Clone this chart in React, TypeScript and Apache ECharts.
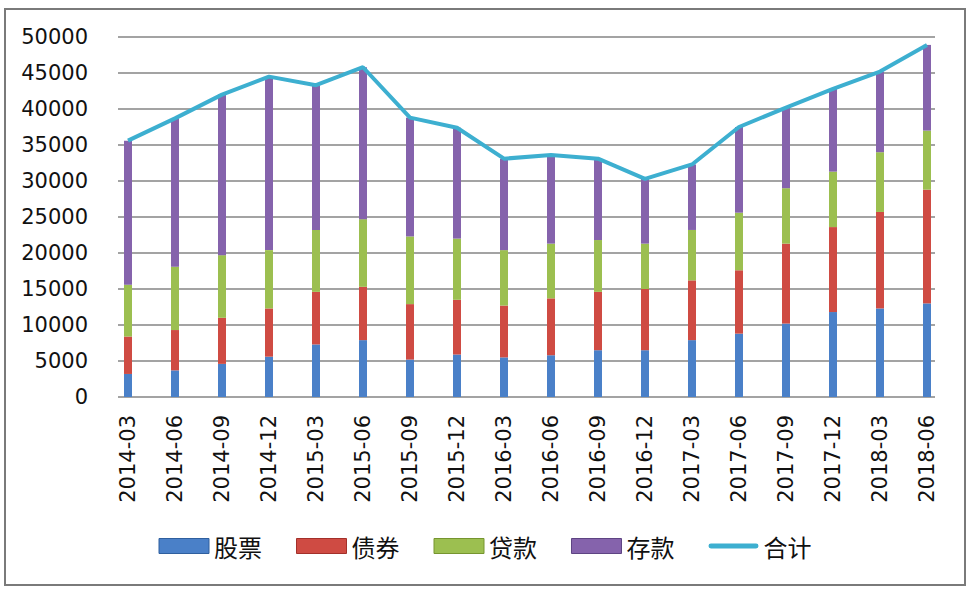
import React, { useEffect, useRef } from "react";
import * as echarts from "echarts";

const categories = [
  "2014-03", "2014-06", "2014-09", "2014-12", "2015-03", "2015-06",
  "2015-09", "2015-12", "2016-03", "2016-06", "2016-09", "2016-12",
  "2017-03", "2017-06", "2017-09", "2017-12", "2018-03", "2018-06",
];
const stocks = [3200, 3700, 4600, 5600, 7300, 7900, 5200, 5900, 5500, 5800, 6500, 6500, 7900, 8800, 10200, 11800, 12300, 13000];
const bonds = [5200, 5600, 6400, 6700, 7300, 7400, 7700, 7600, 7200, 7900, 8100, 8500, 8300, 8800, 11100, 11800, 13400, 15800];
const loans = [7200, 8800, 8700, 8100, 8600, 9400, 9400, 8500, 7700, 7600, 7200, 6300, 7000, 8000, 7700, 7700, 8300, 8200];
const deposits = [20000, 20600, 22300, 24100, 20100, 21100, 16500, 15400, 12700, 12300, 11300, 9000, 9100, 11900, 11200, 11500, 11200, 11900];
const totals = [35600, 38700, 42000, 44500, 43300, 45800, 38800, 37400, 33100, 33600, 33100, 30300, 32300, 37500, 40200, 42800, 45200, 48900];
const seriesNames = ["股票", "债券", "贷款", "存款", "合计"];
const yTicks = { min: 0, max: 50000, interval: 5000 };

const colors = ["#4A80C8", "#CF4B43", "#9CBF50", "#8563AC", "#3DAFD0"];
const borders = ["#2f5f9e", "#a3302a", "#76952f", "#5e4483"];
const lineIcon = "path://M0,0h0.05v0.05h-0.05zM2,5h46a2.5,2.5 0 0 1 0,5h-46a2.5,2.5 0 0 1 0,-5zM0,14.95h0.05v0.05h-0.05z";

export default function App() {
  const ref = useRef<HTMLDivElement>(null);
  useEffect(() => {
    if (!ref.current) return;
    const chart = echarts.init(ref.current, null, { renderer: "svg" });
    const barData = [stocks, bonds, loans, deposits];
    const bars = barData.map((d, i) => ({
      name: seriesNames[i],
      type: "bar",
      stack: "total",
      xAxisIndex: 1,
      yAxisIndex: 1,
      barWidth: 8,
      data: d,
      itemStyle: { color: colors[i] },
    }));
    chart.setOption({
      animation: false,
      backgroundColor: "#ffffff",
      graphic: [
        {
          type: "rect",
          shape: { x: 5, y: 9, width: 960, height: 576 },
          style: { fill: "none", stroke: "#7a7a7a", lineWidth: 2 },
          silent: true,
        },
      ],
      grid: [
        { left: 118, right: 35, top: 37, bottom: 193 },
        { left: 128, right: 43, top: 37, bottom: 193 },
      ],
      xAxis: [
        { type: "category", gridIndex: 0, data: categories, show: false },
        {
          type: "category",
          gridIndex: 1,
          data: categories,
          boundaryGap: false,
          axisLine: { show: false },
          axisTick: { show: false },
          axisLabel: {
            rotate: 90,
            margin: 18,
            fontSize: 21,
            fontFamily: "DejaVu Sans",
            color: "#111",
            interval: 0,
          },
        },
      ],
      yAxis: [
        {
          type: "value",
          gridIndex: 0,
          ...yTicks,
          axisLine: { show: false },
          axisTick: { show: false },
          axisLabel: {
            margin: 30,
            fontSize: 21,
            fontFamily: "DejaVu Sans",
            color: "#111",
            formatter: (v: number) => String(v),
          },
          splitLine: { lineStyle: { color: "#858585", width: 1.5 } },
        },
        { type: "value", gridIndex: 1, ...yTicks, show: false, splitLine: { show: false } },
      ],
      legend: {
        left: "center",
        top: 529,
        itemWidth: 50,
        itemHeight: 15,
        itemGap: 34,
        textStyle: { fontSize: 24, fontFamily: "Noto Sans CJK SC", color: "#111" },
        data: seriesNames.map((n, i) =>
          i < 4
            ? { name: n, icon: "rect", itemStyle: { borderColor: borders[i], borderWidth: 1 } }
            : { name: n, icon: lineIcon }
        ),
      },
      series: [
        ...bars,
        {
          name: seriesNames[4],
          type: "line",
          xAxisIndex: 1,
          yAxisIndex: 1,
          data: totals,
          symbol: "none",
          z: 5,
          lineStyle: { color: colors[4], width: 4 },
          itemStyle: { color: colors[4] },
        },
      ],
    });
    return () => chart.dispose();
  }, []);
  return (
    <div
      ref={ref}
      style={{ position: "absolute", left: 0, top: 0, width: 970, height: 590 }}
    />
  );
}
